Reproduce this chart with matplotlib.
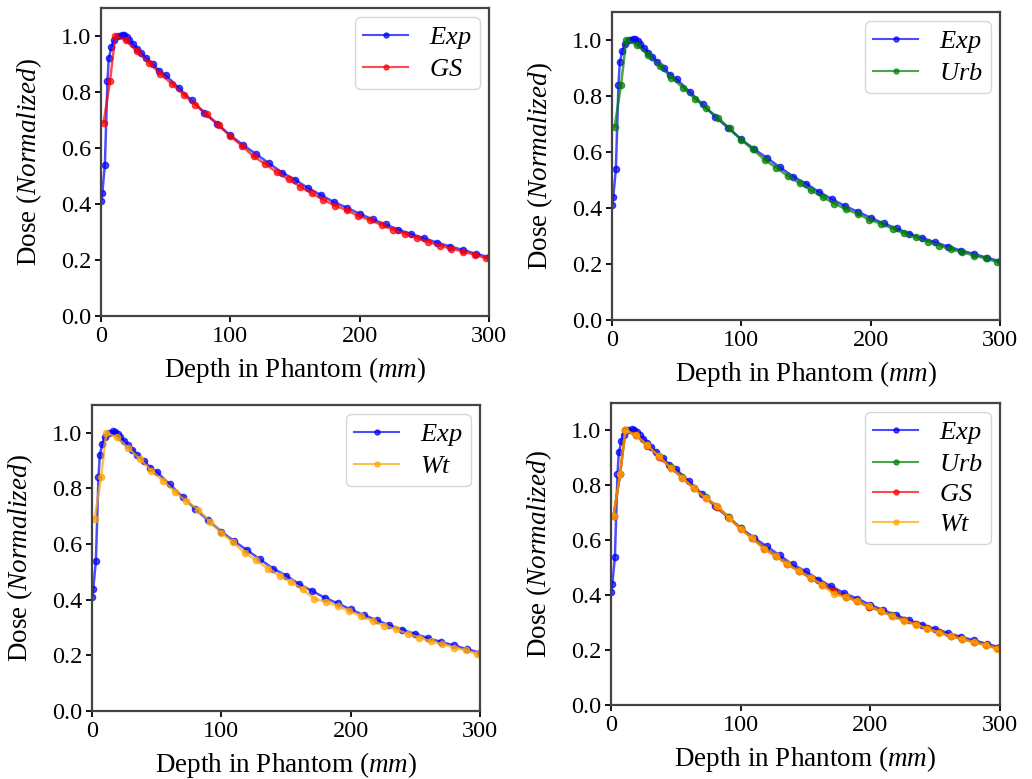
import matplotlib
matplotlib.use("Agg")
import matplotlib.pyplot as plt

plt.rcParams['font.family'] = ['Liberation Serif', 'DejaVu Serif']
plt.rcParams['mathtext.fontset'] = 'custom'
plt.rcParams['mathtext.it'] = 'Liberation Serif:italic'
plt.rcParams['mathtext.rm'] = 'Liberation Serif'

# Experimentell mätning
exp_x = [0, 1, 3, 5, 6, 8, 10, 13, 16, 18, 20, 22, 25, 28, 31, 35, 40, 45, 50,
         60, 70, 80, 90, 100, 110, 120, 130, 140, 150, 160, 170, 180, 190, 200,
         210, 220, 230, 240, 250, 260, 270, 280, 290, 300]
exp_y = [0.41, 0.44, 0.54, 0.84, 0.92, 0.96, 0.985, 1.0, 1.005, 1.003, 0.995, 0.985,
         0.97, 0.955, 0.94, 0.92, 0.90, 0.875, 0.86, 0.815, 0.77, 0.725, 0.685, 0.645,
         0.61, 0.578, 0.545, 0.512, 0.487, 0.457, 0.432, 0.407, 0.387, 0.365, 0.345,
         0.327, 0.308, 0.292, 0.277, 0.262, 0.248, 0.236, 0.222, 0.21]

# Simuleringar
sim_x = [2, 7, 11, 19, 28, 37, 46, 55, 64, 73, 82, 91, 100, 109, 118, 127, 136,
         145, 154, 163, 172, 181, 190, 199, 208, 217, 226, 235, 244, 253, 262,
         271, 280, 289, 298]
gs_y = [0.69, 0.84, 1.0, 0.985, 0.945, 0.905, 0.865, 0.828, 0.79, 0.755, 0.72, 0.682,
        0.642, 0.608, 0.57, 0.543, 0.513, 0.488, 0.462, 0.438, 0.415, 0.394, 0.378,
        0.357, 0.343, 0.325, 0.308, 0.294, 0.279, 0.265, 0.251, 0.241, 0.229, 0.219, 0.206]
urb_y = [0.69, 0.84, 1.0, 0.983, 0.947, 0.907, 0.866, 0.829, 0.791, 0.756, 0.722, 0.684,
         0.643, 0.609, 0.572, 0.544, 0.514, 0.489, 0.463, 0.439, 0.416, 0.395, 0.379,
         0.358, 0.344, 0.326, 0.309, 0.295, 0.280, 0.266, 0.252, 0.242, 0.230, 0.220, 0.207]
wt_y = [0.69, 0.84, 1.0, 0.984, 0.946, 0.906, 0.864, 0.827, 0.789, 0.754, 0.724, 0.681,
        0.641, 0.607, 0.569, 0.542, 0.512, 0.487, 0.464, 0.437, 0.403, 0.393, 0.377,
        0.359, 0.342, 0.324, 0.307, 0.293, 0.278, 0.264, 0.250, 0.240, 0.228, 0.218, 0.205]

fig = plt.figure(figsize=(10.32, 7.79), dpi=100)

# Axlarnas placering i figuren (vänster, botten, bredd, höjd)
positions = [
    [101/1032, 1 - 316/779, 388/1032, 308/779],
    [612/1032, 1 - 320/779, 388/1032, 308/779],
    [92/1032, 1 - 711/779, 388/1032, 306/779],
    [611/1032, 1 - 705/779, 389/1032, 302/779],
]

panels = [
    [("GS", gs_y, "red")],
    [("Urb", urb_y, "green")],
    [("Wt", wt_y, "orange")],
    [("Urb", urb_y, "green"), ("GS", gs_y, "red"), ("Wt", wt_y, "orange")],
]

for pos, sims in zip(positions, panels):
    ax = fig.add_axes(pos)
    ax.plot(exp_x, exp_y, color="blue", marker="o", markersize=4.5, lw=1.8,
            alpha=0.7, label=r"$Exp$")
    for name, y, c in sims:
        ax.plot(sim_x, y, color=c, marker="o", markersize=4.5, lw=1.8,
                alpha=0.7, label=r"$%s$" % name)
    ax.set_xlim(0, 300)
    ax.set_ylim(0, 1.1)
    ax.set_xticks([0, 100, 200, 300])
    ax.set_yticks([0.0, 0.2, 0.4, 0.6, 0.8, 1.0])
    ax.tick_params(labelsize=17.5, width=1.3, length=4, pad=3)
    for s in ax.spines.values():
        s.set_color("#444444")
        s.set_linewidth(1.6)
    ax.set_xlabel(r"Depth in Phantom ($mm$)", fontsize=19.5, labelpad=6)
    ax.set_ylabel(r"Dose ($Normalized$)", fontsize=19.5, labelpad=12)
    leg = ax.legend(loc="upper right", fontsize=19, handlelength=1.7,
                    borderpad=0.3, labelspacing=0.25, handletextpad=0.8,
                    borderaxespad=0.35, markerscale=0.8)
    for h in leg.get_lines():
        h.set_linewidth(1.5)

fig.savefig("out.png", dpi=100)
